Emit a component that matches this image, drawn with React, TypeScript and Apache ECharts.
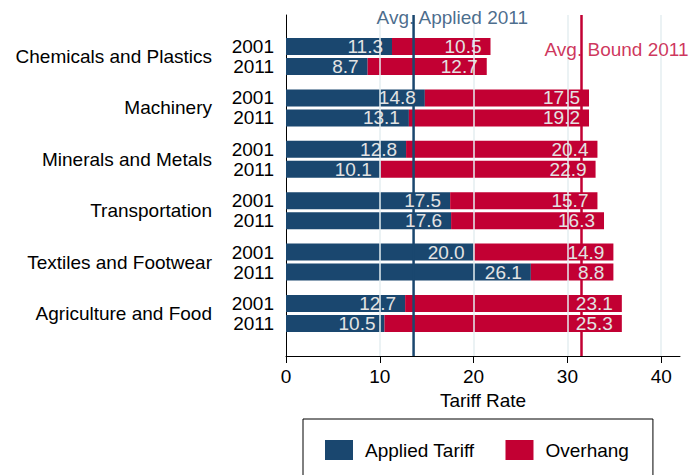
import React, { useEffect, useRef } from 'react';
import * as echarts from 'echarts';

const sectors = [
  'Chemicals and Plastics',
  'Machinery',
  'Minerals and Metals',
  'Transportation',
  'Textiles and Footwear',
  'Agriculture and Food',
];
const years = ['2001', '2011'];
const applied2001 = [11.3, 14.8, 12.8, 17.5, 20.0, 12.7];
const overhang2001 = [10.5, 17.5, 20.4, 15.7, 14.9, 23.1];
const applied2011 = [8.7, 13.1, 10.1, 17.6, 26.1, 10.5];
const overhang2011 = [12.7, 19.2, 22.9, 16.3, 8.8, 25.3];
const avgLines = [
  { name: 'Avg. Applied 2011', value: 13.6, pos: 0.994 },
  { name: 'Avg. Bound 2011', value: 31.5, pos: 0.9 },
];
const xTicks = [0, 10, 20, 30, 40];
const gridTicks = [10, 20, 30, 40];

const NAVY = '#1a476f';
const RED = '#c20033';
const FONT = 'Liberation Sans, Arial, Helvetica, sans-serif';

export default function App() {
  const ref = useRef<HTMLDivElement>(null);
  useEffect(() => {
    if (!ref.current) return;
    const chart = echarts.init(ref.current, undefined, { renderer: 'svg' });
    const byYear: Record<string, [number[], number[]]> = {
      '2001': [applied2001, overhang2001],
      '2011': [applied2011, overhang2011],
    };
    const valueLabel = {
      show: true,
      position: 'insideRight',
      distance: 9,
      color: '#e3e3e3',
      fontSize: 19,
      fontFamily: FONT,
      formatter: (p: any) => Number(p.value).toFixed(1),
    };
    const common = { type: 'bar', barWidth: 17, barGap: '17.6%' };
    const barSeries: any[] = [];
    const labelSeries: any[] = [];
    years.forEach((y) => {
      const [ap, ov] = byYear[y];
      // coloured bars (grid 0)
      barSeries.push({
        ...common,
        name: 'Applied Tariff',
        stack: 's' + y,
        xAxisIndex: 0,
        yAxisIndex: 0,
        data: ap,
        itemStyle: { color: NAVY },
        z: 2,
      });
      barSeries.push({
        ...common,
        name: 'Overhang',
        stack: 's' + y,
        xAxisIndex: 0,
        yAxisIndex: 0,
        data: ov,
        itemStyle: { color: RED },
        z: 2,
      });
      // labels (grid 2, same layout, drawn above the average lines)
      labelSeries.push({
        ...common,
        name: 'yr' + y,
        stack: 'L' + y,
        xAxisIndex: 2,
        yAxisIndex: 2,
        data: sectors.map(() => 0),
        itemStyle: { color: 'rgba(0,0,0,0)' },
        label: {
          show: true,
          position: 'left',
          distance: 12,
          formatter: y,
          color: '#000',
          fontSize: 19,
          fontFamily: FONT,
        },
        silent: true,
        z: 4,
      });
      labelSeries.push({
        ...common,
        name: 'lblA' + y,
        stack: 'L' + y,
        xAxisIndex: 2,
        yAxisIndex: 2,
        data: ap,
        itemStyle: { color: 'rgba(0,0,0,0)' },
        label: valueLabel,
        silent: true,
        z: 4,
      });
      labelSeries.push({
        ...common,
        name: 'lblO' + y,
        stack: 'L' + y,
        xAxisIndex: 2,
        yAxisIndex: 2,
        data: ov,
        itemStyle: { color: 'rgba(0,0,0,0)' },
        label: valueLabel,
        silent: true,
        z: 4,
      });
    });

    const lineColors = [NAVY, RED];
    const barGrid = { left: 286, right: 20, top: 30.8, bottom: 135.8 };

    chart.setOption({
      animation: false,
      textStyle: { fontFamily: FONT },
      grid: [barGrid, { left: 286, right: 20, top: 15, bottom: 119 }, barGrid],
      legend: {
        data: ['Applied Tariff', 'Overhang'],
        left: 303,
        top: 419,
        orient: 'horizontal',
        icon: 'rect',
        itemWidth: 28,
        itemHeight: 20,
        itemGap: 31,
        borderColor: '#000',
        borderWidth: 1,
        borderRadius: 0,
        backgroundColor: '#fff',
        padding: [21, 24, 22, 22],
        textStyle: { fontSize: 19, color: '#000', fontFamily: FONT, padding: [0, 0, 0, 7] },
        selectedMode: false,
      },
      xAxis: [
        { gridIndex: 0, type: 'value', min: 0, max: 42, show: false },
        {
          gridIndex: 1,
          type: 'value',
          min: 0,
          max: 42,
          interval: 10,
          axisLine: { show: true, onZero: false, lineStyle: { color: '#000', width: 1 } },
          axisTick: { show: true, length: 7, lineStyle: { color: '#000' }, customValues: xTicks },
          axisLabel: {
            fontSize: 19,
            color: '#000',
            margin: 11,
            fontFamily: FONT,
            customValues: xTicks,
            formatter: (v: number) => (xTicks.indexOf(v) >= 0 ? String(v) : ''),
          },
          splitLine: { show: false },
          name: 'Tariff Rate',
          nameLocation: 'middle',
          nameGap: 31,
          nameTextStyle: { fontSize: 19, color: '#000', fontFamily: FONT },
        },
        { gridIndex: 2, type: 'value', min: 0, max: 42, show: false },
      ],
      yAxis: [
        {
          gridIndex: 0,
          type: 'category',
          data: sectors,
          inverse: true,
          axisLine: { show: false },
          axisTick: { show: false },
          splitLine: { show: false },
          axisLabel: { fontSize: 19, color: '#000', margin: 74, fontFamily: FONT },
        },
        {
          gridIndex: 1,
          type: 'value',
          min: 0,
          max: 1,
          axisLine: { show: true, onZero: false, lineStyle: { color: '#000', width: 1 } },
          axisTick: { show: false },
          axisLabel: { show: false },
          splitLine: { show: false },
        },
        { gridIndex: 2, type: 'category', data: sectors, inverse: true, show: false },
      ],
      series: [
        {
          type: 'scatter',
          name: 'grid',
          xAxisIndex: 1,
          yAxisIndex: 1,
          data: [],
          symbolSize: 0,
          silent: true,
          z: 1,
          markLine: {
            silent: true,
            symbol: ['none', 'none'],
            label: { show: false },
            lineStyle: { color: '#e4eef0', width: 1.5, type: 'solid' },
            data: gridTicks.map((t) => ({ xAxis: t })),
          },
        },
        ...barSeries,
        {
          type: 'custom',
          name: 'avgLines',
          xAxisIndex: 1,
          yAxisIndex: 1,
          silent: true,
          z: 3,
          data: avgLines.map((a, i) => [a.value, 0, i]),
          encode: { x: 0, y: 1 },
          renderItem: (params: any, api: any) => {
            const cs = params.coordSys;
            const x = api.coord([api.value(0), 0])[0];
            const idx = api.value(2);
            return {
              type: 'line',
              shape: { x1: x, y1: cs.y, x2: x, y2: cs.y + cs.height },
              style: { stroke: lineColors[idx], lineWidth: 2.5 },
            };
          },
        },
        ...labelSeries,
        {
          type: 'scatter',
          name: 'avg',
          xAxisIndex: 1,
          yAxisIndex: 1,
          symbolSize: 0,
          silent: true,
          z: 5,
          data: avgLines.map((a, i) => ({
            value: [a.value, a.pos],
            label: {
              show: true,
              position: 'right',
              distance: 0,
              offset: [-37, 0],
              formatter: a.name,
              color: lineColors[i],
              fontSize: 19,
              fontFamily: FONT,
            },
          })),
        },
      ],
    });
    return () => chart.dispose();
  }, []);
  return (
    <div
      ref={ref}
      style={{ position: 'absolute', left: 0, top: 0, width: 700, height: 475, background: '#fff' }}
    />
  );
}
